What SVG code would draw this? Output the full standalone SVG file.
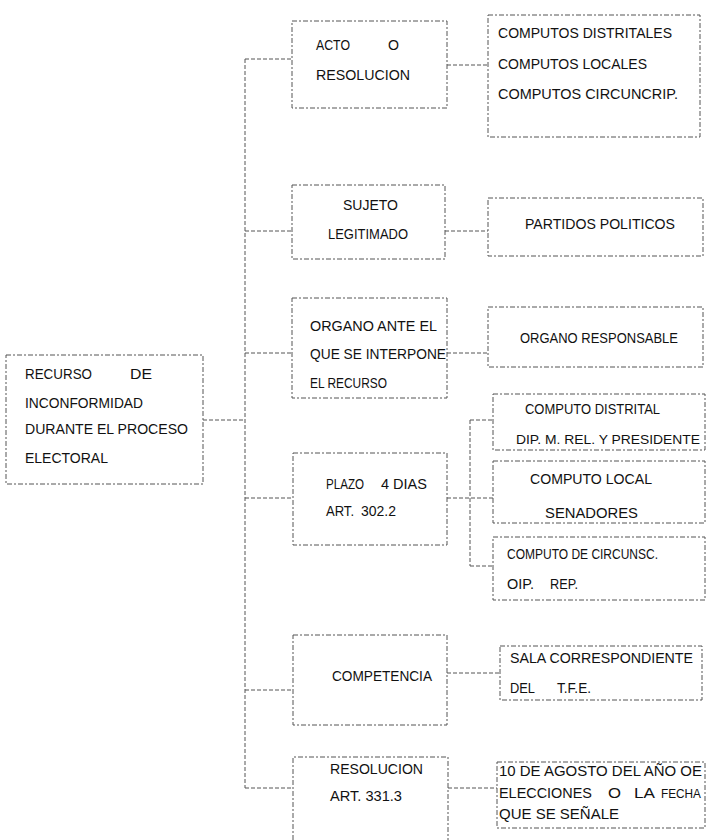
<svg xmlns="http://www.w3.org/2000/svg" width="709" height="840" viewBox="0 0 709 840">
<style>
.b{fill:none;stroke:#555;stroke-width:1;stroke-dasharray:5 2 2 2}
.c{fill:none;stroke:#555;stroke-width:1;stroke-dasharray:4 2}
text{font-family:"Liberation Sans",Arial,sans-serif;font-size:15px;fill:#111}
.s{font-size:13.5px}
</style>
<rect width="709" height="840" fill="#fff"/>
<g id="connectors">
<path class="c" d="M203,420 H245"/>
<path class="c" d="M245,59 V788"/>
<path class="c" d="M245,59 H292"/>
<path class="c" d="M447,65 H488"/>
<path class="c" d="M245,231 H292"/>
<path class="c" d="M445,231 H488"/>
<path class="c" d="M245,353 H292"/>
<path class="c" d="M447,353 H488"/>
<path class="c" d="M245,498 H293"/>
<path class="c" d="M447,498 H493"/>
<path class="c" d="M470,420 V566"/>
<path class="c" d="M470,420 H493"/>
<path class="c" d="M470,566 H493"/>
<path class="c" d="M245,690 H293"/>
<path class="c" d="M447,673 H500"/>
<path class="c" d="M245,788 H293"/>
<path class="c" d="M448,788 H497"/>
</g>
<g id="recurso">
<rect class="b" x="6" y="355" width="197" height="129"/>
<text x="25" y="379" textLength="67" lengthAdjust="spacingAndGlyphs">RECURSO</text>
<text x="130" y="379" textLength="22" lengthAdjust="spacingAndGlyphs">DE</text>
<text x="25" y="408" textLength="118" lengthAdjust="spacingAndGlyphs">INCONFORMIDAD</text>
<text x="25" y="434" textLength="163" lengthAdjust="spacingAndGlyphs">DURANTE EL PROCESO</text>
<text x="25" y="463" textLength="83" lengthAdjust="spacingAndGlyphs">ELECTORAL</text>
</g>
<g id="acto">
<rect class="b" x="292" y="21" width="155" height="87"/>
<text x="316" y="50" textLength="34" lengthAdjust="spacingAndGlyphs">ACTO</text>
<text x="388" y="50" textLength="11" lengthAdjust="spacingAndGlyphs">O</text>
<text x="316" y="80" textLength="94" lengthAdjust="spacingAndGlyphs">RESOLUCION</text>
</g>
<g id="computos">
<rect class="b" x="488" y="15" width="212" height="122"/>
<text x="498" y="38" textLength="174" lengthAdjust="spacingAndGlyphs">COMPUTOS DISTRITALES</text>
<text x="498" y="69" textLength="149" lengthAdjust="spacingAndGlyphs">COMPUTOS LOCALES</text>
<text x="498" y="99" textLength="180" lengthAdjust="spacingAndGlyphs">COMPUTOS CIRCUNCRIP.</text>
</g>
<g id="sujeto">
<rect class="b" x="292" y="185" width="153" height="74"/>
<text x="343" y="210" textLength="55" lengthAdjust="spacingAndGlyphs">SUJETO</text>
<text x="328" y="239" textLength="80" lengthAdjust="spacingAndGlyphs">LEGITIMADO</text>
</g>
<g id="partidos">
<rect class="b" x="488" y="198" width="215" height="58"/>
<text x="525" y="229" textLength="150" lengthAdjust="spacingAndGlyphs">PARTIDOS POLITICOS</text>
</g>
<g id="organo">
<rect class="b" x="292" y="298" width="155" height="100"/>
<text x="310" y="331" textLength="127" lengthAdjust="spacingAndGlyphs">ORGANO  ANTE EL</text>
<text x="310" y="359" textLength="136" lengthAdjust="spacingAndGlyphs">QUE SE INTERPONE</text>
<text x="310" y="388" textLength="77" lengthAdjust="spacingAndGlyphs">EL RECURSO</text>
</g>
<g id="responsable">
<rect class="b" x="488" y="307" width="215" height="60"/>
<text x="520" y="343" textLength="158" lengthAdjust="spacingAndGlyphs">ORGANO RESPONSABLE</text>
</g>
<g id="plazo">
<rect class="b" x="293" y="453" width="154" height="92"/>
<text x="326" y="489" textLength="38" lengthAdjust="spacingAndGlyphs">PLAZO</text>
<text x="381" y="489" textLength="46" lengthAdjust="spacingAndGlyphs">4 DIAS</text>
<text x="326" y="516" textLength="28" lengthAdjust="spacingAndGlyphs">ART.</text>
<text x="361" y="516" textLength="35" lengthAdjust="spacingAndGlyphs">302.2</text>
</g>
<g id="distrital">
<rect class="b" x="493" y="394" width="212" height="56"/>
<text x="525" y="414" textLength="135" lengthAdjust="spacingAndGlyphs">COMPUTO DISTRITAL</text>
<text class="s" x="516" y="444" textLength="184" lengthAdjust="spacingAndGlyphs">DIP. M. REL. Y PRESIDENTE</text>
</g>
<g id="local">
<rect class="b" x="493" y="461" width="212" height="62"/>
<text x="530" y="484" textLength="122" lengthAdjust="spacingAndGlyphs">COMPUTO LOCAL</text>
<text x="545" y="518" textLength="93" lengthAdjust="spacingAndGlyphs">SENADORES</text>
</g>
<g id="circunsc">
<rect class="b" x="493" y="537" width="212" height="63"/>
<text x="507" y="559" textLength="151" lengthAdjust="spacingAndGlyphs">COMPUTO DE CIRCUNSC.</text>
<text x="507" y="589" textLength="27" lengthAdjust="spacingAndGlyphs">OIP.</text>
<text x="550" y="589" textLength="28" lengthAdjust="spacingAndGlyphs">REP.</text>
</g>
<g id="competencia">
<rect class="b" x="293" y="635" width="154" height="90"/>
<text x="332" y="681" textLength="100" lengthAdjust="spacingAndGlyphs">COMPETENCIA</text>
</g>
<g id="sala">
<rect class="b" x="500" y="646" width="202" height="54"/>
<text x="510" y="663" textLength="183" lengthAdjust="spacingAndGlyphs">SALA  CORRESPONDIENTE</text>
<text x="510" y="693" textLength="25" lengthAdjust="spacingAndGlyphs">DEL</text>
<text x="557" y="693" textLength="34" lengthAdjust="spacingAndGlyphs">T.F.E.</text>
</g>
<g id="resolucion">
<path class="b" d="M293,840 V757 H448 V840"/>
<text x="330" y="774" textLength="93" lengthAdjust="spacingAndGlyphs">RESOLUCION</text>
<text x="330" y="801" textLength="72" lengthAdjust="spacingAndGlyphs">ART. 331.3</text>
</g>
<g id="fecha">
<rect class="b" x="497" y="762" width="208" height="66"/>
<text x="499" y="776" textLength="203" lengthAdjust="spacingAndGlyphs">10 DE AGOSTO DEL AÑO OE</text>
<text x="499" y="798" textLength="93" lengthAdjust="spacingAndGlyphs">ELECCIONES</text>
<text x="608" y="798" textLength="13" lengthAdjust="spacingAndGlyphs">O</text>
<text x="634" y="798" textLength="21" lengthAdjust="spacingAndGlyphs">LA</text>
<text class="s" x="661" y="798" textLength="40" lengthAdjust="spacingAndGlyphs">FECHA</text>
<text x="499" y="819" textLength="120" lengthAdjust="spacingAndGlyphs">QUE SE SEÑALE</text>
</g>
</svg>
